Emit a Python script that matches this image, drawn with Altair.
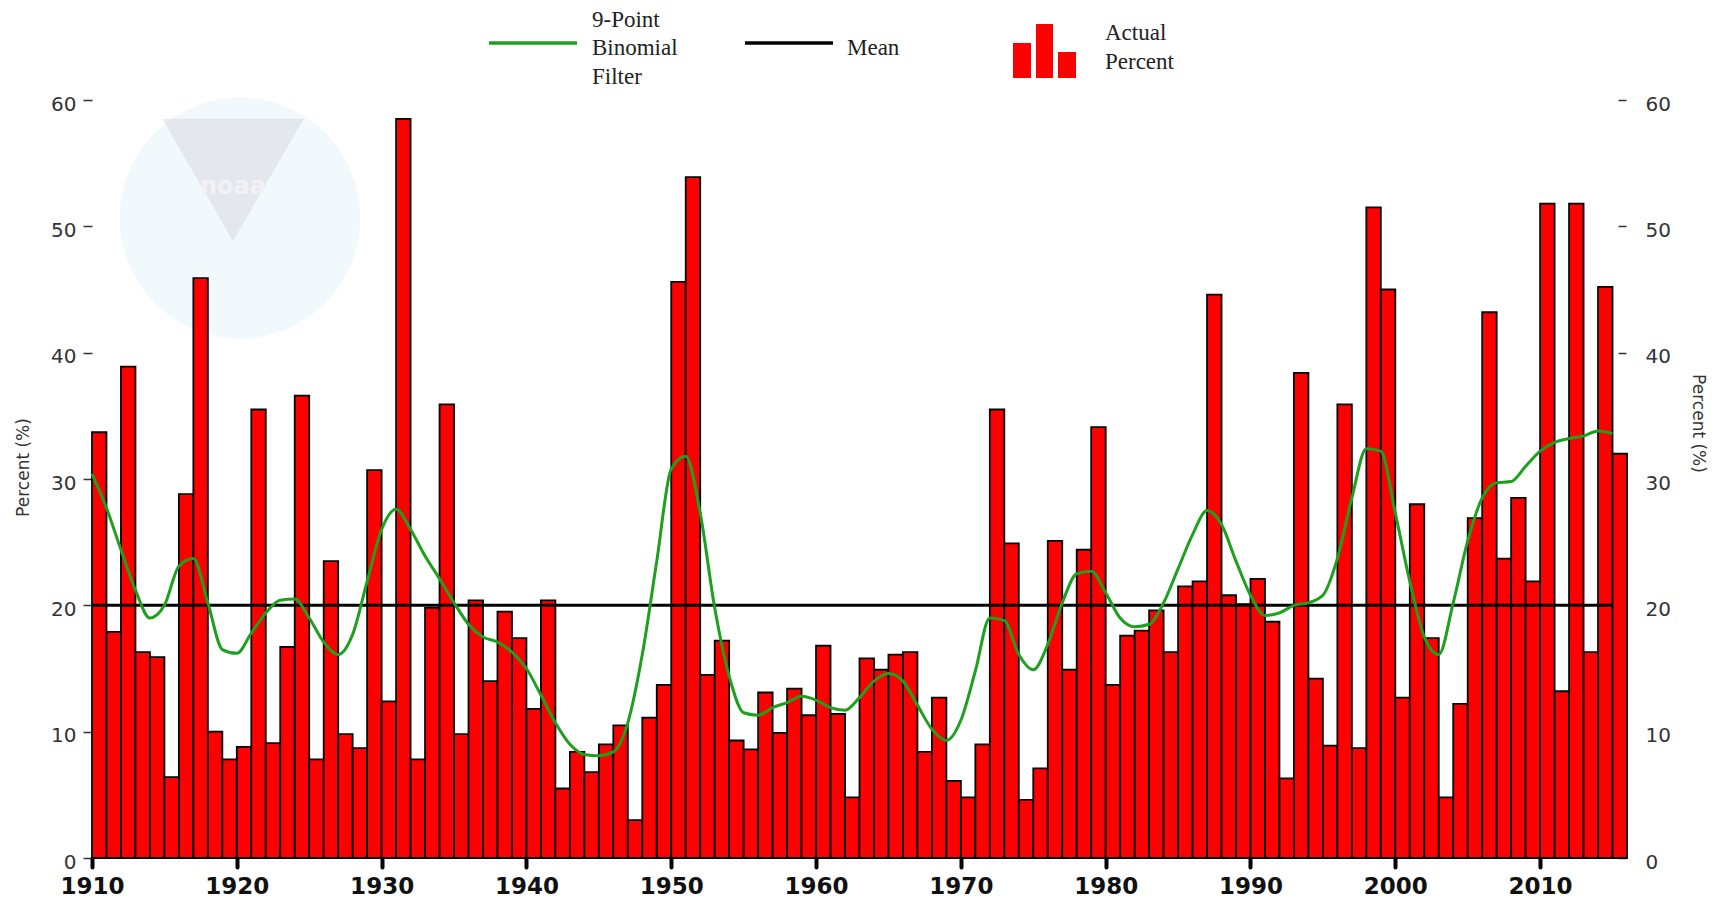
import altair as alt
import pandas as pd

# Share of area in the class, by year (percent)
YEARS = list(range(1910, 2016))
PERCENT = [
    33.7, 17.9, 38.9, 16.3, 15.9, 6.4, 28.8, 45.9, 10.0, 7.8,      # 1910-1919
    8.8, 35.5, 9.1, 16.7, 36.6, 7.8, 23.5, 9.8, 8.7, 30.7,         # 1920-1929
    12.4, 58.5, 7.8, 19.8, 35.9, 9.8, 20.4, 14.0, 19.5, 17.4,      # 1930-1939
    11.8, 20.4, 5.5, 8.4, 6.8, 9.0, 10.5, 3.0, 11.1, 13.7,         # 1940-1949
    45.6, 53.9, 14.5, 17.2, 9.3, 8.6, 13.1, 9.9, 13.4, 11.3,       # 1950-1959
    16.8, 11.4, 4.8, 15.8, 14.9, 16.1, 16.3, 8.4, 12.7, 6.1,       # 1960-1969
    4.8, 9.0, 35.5, 24.9, 4.6, 7.1, 25.1, 14.9, 24.4, 34.1,        # 1970-1979
    13.7, 17.6, 18.0, 19.6, 16.3, 21.5, 21.9, 44.6, 20.8, 20.1,    # 1980-1989
    22.1, 18.7, 6.3, 38.4, 14.2, 8.9, 35.9, 8.7, 51.5, 45.0,       # 1990-1999
    12.7, 28.0, 17.4, 4.8, 12.2, 26.9, 43.2, 23.7, 28.5, 21.9,     # 2000-2009
    51.8, 13.2, 51.8, 16.3, 45.2, 32.0,                            # 2010-2015
]
# 9-point binomial filter of the series
FILTERED = [
    30.4, 27.7, 24.4, 21.2, 19.0, 20.0, 23.1, 23.7, 20.2, 16.5,
    16.2, 17.8, 19.4, 20.4, 20.5, 19.0, 17.1, 16.1, 17.7, 21.9,
    26.0, 27.6, 26.0, 23.9, 22.1, 20.2, 18.5, 17.5, 17.1, 16.3,
    15.0, 12.9, 10.7, 9.0, 8.2, 8.1, 8.4, 10.7, 16.1, 23.5,
    30.8, 31.8, 27.3, 19.8, 14.4, 11.5, 11.3, 11.9, 12.3, 12.8,
    12.5, 11.9, 11.7, 12.7, 14.0, 14.6, 14.0, 12.1, 10.2, 9.3,
    10.9, 14.8, 19.0, 18.8, 16.1, 14.9, 16.9, 20.2, 22.5, 22.7,
    21.0, 19.0, 18.3, 18.5, 20.2, 22.9, 25.6, 27.5, 26.4, 23.5,
    20.8, 19.2, 19.4, 20.0, 20.2, 20.8, 23.7, 28.5, 32.4, 32.2,
    27.3, 21.9, 17.5, 16.1, 20.2, 25.1, 28.5, 29.7, 29.8, 31.0,
    32.2, 32.9, 33.2, 33.4, 33.8, 33.6,
]
MEAN = 20.0
Y_TICKS = [0, 10, 20, 30, 40, 50, 60]
X_TICKS = list(range(1910, 2011, 10))

df = pd.DataFrame({"year": YEARS, "percent": PERCENT, "filtered": FILTERED})
df["year_end"] = df["year"] + 1
df["base"] = 0
mean_df = pd.DataFrame({"start": [YEARS[0]], "end": [YEARS[-1]], "mean": [MEAN]})
one = pd.DataFrame({"k": [0]})

W, H = 1535, 758
SANS = "DejaVu Sans"
SERIF = "Liberation Serif"
GREEN = "#1ea01e"

x_scale = alt.Scale(domain=[1910, 2016], nice=False, zero=False)
y_scale = alt.Scale(domain=[0, 60], nice=False)

x_axis = alt.Axis(
    orient="bottom", values=X_TICKS, format="d", title=None, domain=False, grid=False,
    tickColor="#000", tickSize=9, tickWidth=4, tickCap="round",
    labelFont=SANS, labelFontSize=23, labelFontWeight="bold", labelColor="#111",
    labelPadding=8, labelFlush=False, labelOverlap=False,
)
left_axis = alt.Axis(
    orient="left", values=Y_TICKS, domain=False, grid=False,
    tickColor="#333", tickSize=9, tickWidth=1.5,
    labelFont=SANS, labelFontSize=20, labelColor="#333", labelPadding=7, labelOffset=4,
    title="Percent (%)", titleFont=SANS, titleFontSize=17, titleFontWeight="normal",
    titleColor="#333", titleAngle=270, titleX=-69, titleY=367,
    titleAlign="center", titleBaseline="middle",
)
right_axis = alt.Axis(
    orient="right", values=Y_TICKS, domain=False, grid=False, offset=-9,
    tickColor="#333", tickSize=8, tickWidth=1.5,
    labelFont=SANS, labelFontSize=20, labelColor="#333", labelPadding=19, labelOffset=4,
    title="Percent (%)", titleFont=SANS, titleFontSize=17, titleFontWeight="normal",
    titleColor="#333", titleAngle=90, titleX=79, titleY=323,
    titleAlign="center", titleBaseline="middle",
)

# faded emblem behind the bars
emb_circle = alt.Chart(one).mark_point(
    shape="circle", filled=True, color="#eaf5fb", opacity=0.6, size=58000
).encode(x=alt.value(148), y=alt.value(118))
emb_tri = alt.Chart(one).mark_point(
    shape="triangle-down", filled=True, color="#d8d8e2", opacity=0.55, size=20000
).encode(x=alt.value(141), y=alt.value(80))
emb_text = alt.Chart(one).mark_text(
    font=SANS, fontSize=24, fontWeight="bold", color="#f2f2f6"
).encode(x=alt.value(141), y=alt.value(87), text=alt.value("noaa"))

bars = alt.Chart(df).mark_rect(
    color="#ff0000", stroke="#000", strokeWidth=1.8
).encode(
    x=alt.X("year:Q", scale=x_scale, axis=x_axis),
    x2="year_end:Q",
    y=alt.Y("percent:Q", scale=y_scale, axis=left_axis),
    y2="base:Q",
)

mean_rule = alt.Chart(mean_df).mark_rule(color="#000", strokeWidth=3).encode(
    x=alt.X("start:Q", scale=x_scale, axis=x_axis),
    x2="end:Q",
    y=alt.Y("mean:Q", scale=y_scale, axis=right_axis),
)

green = alt.Chart(df).mark_line(
    color=GREEN, strokeWidth=3, interpolate="monotone"
).encode(
    x=alt.X("year:Q", scale=x_scale, axis=x_axis),
    y=alt.Y("filtered:Q", scale=y_scale, axis=None),
)


def legend_text(txt, x, y):
    return alt.Chart(one).mark_text(
        font=SERIF, fontSize=23, color="#222", align="left", baseline="middle"
    ).encode(x=alt.value(x), y=alt.value(y), text=alt.value(txt))


def legend_line(color, x1, x2, y):
    return alt.Chart(one).mark_rule(color=color, strokeWidth=3.5).encode(
        x=alt.value(x1), x2=alt.value(x2), y=alt.value(y)
    )


def legend_box(x1, x2, y1, y2):
    return alt.Chart(one).mark_rect(color="#ff0000").encode(
        x=alt.value(x1), x2=alt.value(x2), y=alt.value(y1), y2=alt.value(y2)
    )


legend = [
    legend_line(GREEN, 397, 485, -57),
    legend_text("9-Point", 500, -80),
    legend_text("Binomial", 500, -52),
    legend_text("Filter", 500, -23),
    legend_line("#000", 653, 741, -57),
    legend_text("Mean", 755, -52),
    legend_box(921, 939, -57, -22),
    legend_box(944, 961, -76, -22),
    legend_box(966, 984, -48, -22),
    legend_text("Actual", 1013, -67),
    legend_text("Percent", 1013, -38),
]

chart = alt.layer(
    emb_circle, emb_tri, emb_text, bars, mean_rule, green, *legend
).resolve_axis(y="independent").properties(
    width=W, height=H,
    padding={"left": 92, "top": 100, "right": 97, "bottom": 46},
    autosize=alt.AutoSizeParams(type="none"),
    background="white",
).configure_view(stroke=None)

chart.save("out.html", embed_options={"renderer": "svg", "actions": False})
